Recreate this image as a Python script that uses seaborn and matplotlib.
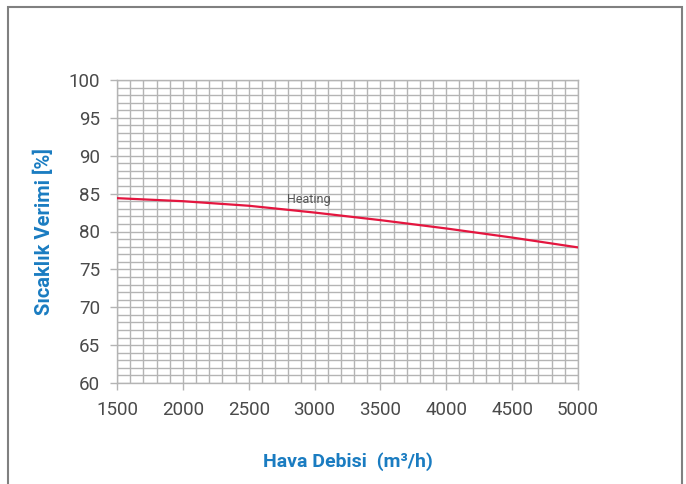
import matplotlib
matplotlib.use("Agg")
import matplotlib.pyplot as plt
import seaborn as sns
import pandas as pd
from matplotlib.patches import Rectangle
from matplotlib.ticker import MultipleLocator

airflow = [1500, 2000, 2500, 3000, 3500, 4000, 4500, 5000]
efficiency = [84.4, 84.0, 83.4, 82.5, 81.5, 80.4, 79.2, 77.9]
series_label = "Heating"
x_ticks = [1500, 2000, 2500, 3000, 3500, 4000, 4500, 5000]
y_ticks = [60, 65, 70, 75, 80, 85, 90, 95, 100]

df = pd.DataFrame({"x": airflow, "y": efficiency})

sns.set_style("white")
plt.rcParams['font.family'] = ['Roboto', 'DejaVu Sans']

fig = plt.figure(figsize=(6.86, 4.84), dpi=100)
ax = fig.add_axes([117/686, 1-383/484, (578-117)/686, (383-80)/484])

sns.lineplot(data=df, x="x", y="y", ax=ax, color="#e4163f", linewidth=1.6, zorder=5)

ax.set_xlim(1500, 5000)
ax.set_ylim(60, 100)
ax.set_xticks(x_ticks)
ax.set_yticks(y_ticks)
ax.xaxis.set_minor_locator(MultipleLocator(100))
ax.yaxis.set_minor_locator(MultipleLocator(1))
ax.grid(which="both", color="#b4b4b4", linewidth=1.0)
ax.set_axisbelow(True)
for s in ax.spines.values():
    s.set_color("#b4b4b4")
    s.set_linewidth(1.0)
ax.tick_params(axis="both", which="major", length=5, width=1, color="#b4b4b4",
               labelsize=13.5, labelcolor="#4a4a4a", direction="out",
               bottom=True, left=True)
ax.tick_params(axis="x", which="major", pad=8)
ax.tick_params(axis="y", which="major", pad=7)
ax.tick_params(which="minor", length=0)

ax.set_xlabel("Hava Debisi  (m³/h)", color="#1a7cc1", fontsize=14, fontweight="bold", labelpad=24)
ax.set_ylabel("Sıcaklık Verimi [%]", color="#1a7cc1", fontsize=14.5, fontweight="bold", labelpad=11)

ax.text(2790, 83.4, series_label, fontsize=9, color="#555555", va="bottom", ha="left")

fig.patches.append(Rectangle((8/686, -0.1), (682-8)/686, 1.1 - 7/484, transform=fig.transFigure,
                             fill=False, edgecolor="#808080", linewidth=1.5, clip_on=False))

fig.savefig("out.png", dpi=100)
